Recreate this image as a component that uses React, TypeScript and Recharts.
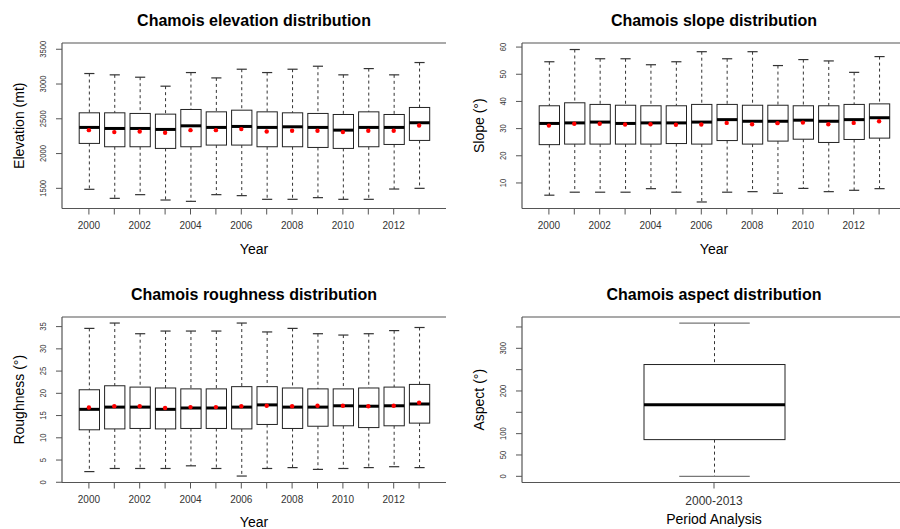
import React from 'react';
import { ComposedChart, Bar, Scatter, XAxis, YAxis } from 'recharts';

const years = [2000, 2001, 2002, 2003, 2004, 2005, 2006, 2007, 2008, 2009, 2010, 2011, 2012, 2013];

const elevMin = [1486, 1356, 1409, 1332, 1313, 1409, 1395, 1342, 1342, 1366, 1342, 1342, 1490, 1500];
const elevQ1 = [2146, 2098, 2098, 2074, 2098, 2122, 2122, 2098, 2098, 2088, 2074, 2098, 2131, 2189];
const elevMedian = [2376, 2361, 2361, 2347, 2399, 2376, 2390, 2376, 2385, 2376, 2337, 2376, 2376, 2443];
const elevQ3 = [2586, 2586, 2577, 2567, 2634, 2600, 2624, 2600, 2586, 2577, 2562, 2600, 2562, 2663];
const elevMax = [3151, 3132, 3098, 2969, 3165, 3088, 3213, 3165, 3213, 3256, 3132, 3222, 3132, 3309];
const elevMean = [2337, 2309, 2318, 2299, 2337, 2337, 2352, 2318, 2328, 2328, 2309, 2328, 2328, 2404];

const slopeMin = [5.5, 6.6, 6.6, 6.6, 7.9, 6.6, 3.0, 6.6, 6.8, 6.2, 8.0, 6.8, 7.3, 7.9];
const slopeQ1 = [24.1, 24.3, 24.3, 24.3, 24.3, 24.5, 24.3, 25.6, 24.3, 25.4, 26.1, 24.9, 26.0, 26.5];
const slopeMedian = [31.9, 32.1, 32.4, 31.9, 32.1, 32.1, 32.4, 33.3, 32.7, 32.7, 33.1, 32.7, 33.3, 34.0];
const slopeQ3 = [38.4, 39.5, 38.9, 38.6, 38.4, 38.4, 38.9, 38.9, 38.6, 38.6, 38.4, 38.4, 38.9, 39.1];
const slopeMax = [54.6, 59.1, 55.7, 55.7, 53.5, 54.6, 58.3, 55.7, 58.3, 53.2, 55.4, 54.9, 50.7, 56.5];
const slopeMean = [31.1, 31.8, 31.8, 31.5, 31.6, 31.4, 31.5, 32.1, 31.6, 32.0, 32.2, 31.6, 32.1, 32.7];

const roughMin = [2.4, 3.1, 3.1, 3.1, 3.7, 3.1, 1.4, 3.1, 3.3, 2.9, 3.1, 3.3, 3.5, 3.3];
const roughQ1 = [11.8, 12.0, 12.1, 12.0, 12.1, 12.1, 12.0, 13.0, 12.1, 12.6, 12.7, 12.3, 12.7, 13.3];
const roughMedian = [16.4, 16.9, 16.9, 16.4, 16.7, 16.7, 16.9, 17.4, 16.9, 16.9, 17.2, 17.1, 17.2, 17.6];
const roughQ3 = [20.8, 21.7, 21.4, 21.2, 21.0, 21.0, 21.5, 21.5, 21.2, 21.0, 21.0, 21.2, 21.4, 22.0];
const roughMax = [34.6, 35.8, 33.4, 34.0, 34.0, 34.0, 35.8, 33.8, 34.6, 33.4, 33.1, 33.4, 34.1, 34.8];
const roughMean = [16.8, 17.1, 17.1, 16.7, 16.9, 16.9, 17.1, 17.2, 17.1, 17.2, 17.2, 17.1, 17.2, 17.9];

const periods = ['2000-2013'];
const aspectMin = [0];
const aspectQ1 = [86];
const aspectMedian = [168];
const aspectQ3 = [262];
const aspectMax = [359];

const elevTicks = [1500, 2000, 2500, 3000, 3500];
const slopeTicks = [10, 20, 30, 40, 50, 60];
const roughTicks = [0, 5, 10, 15, 20, 25, 30, 35];
const aspectTicks = [0, 50, 100, 150, 200, 250, 300, 350];
const aspectTickLabels = [0, 50, 100, 200, 300];

const FRAME = '#555';

type Row = { cat: string; min: number; q1: number; median: number; q3: number; max: number; mean?: number };

const buildRows = (
  cats: (string | number)[],
  min: number[],
  q1: number[],
  median: number[],
  q3: number[],
  max: number[],
  mean?: number[]
): Row[] =>
  cats.map((c, i) => ({
    cat: String(c),
    min: min[i],
    q1: q1[i],
    median: median[i],
    q3: q3[i],
    max: max[i],
    mean: mean ? mean[i] : undefined,
  }));

// one bar spans the whiskers; box and median are placed inside it
const BoxShape = (props: any) => {
  const { x, y, width, height, payload, capColor } = props;
  if (!payload) return null;
  const top = Math.min(y, y + height);
  const h = Math.abs(height);
  const span = payload.max - payload.min;
  const py = (v: number) => top + ((payload.max - v) / span) * h;
  const cx = x + width / 2;
  const cap = width / 4;
  const yQ3 = py(payload.q3);
  const yQ1 = py(payload.q1);
  const yMed = py(payload.median);
  return (
    <g>
      <line x1={cx} x2={cx} y1={top} y2={yQ3} stroke="#333" strokeDasharray="3 3" />
      <line x1={cx} x2={cx} y1={yQ1} y2={top + h} stroke="#333" strokeDasharray="3 3" />
      <line x1={cx - cap} x2={cx + cap} y1={top} y2={top} stroke={capColor} strokeWidth={1.2} />
      <line x1={cx - cap} x2={cx + cap} y1={top + h} y2={top + h} stroke={capColor} strokeWidth={1.2} />
      <rect x={x} y={yQ3} width={width} height={yQ1 - yQ3} fill="#fff" stroke="#222" />
      <line x1={x} x2={x + width} y1={yMed} y2={yMed} stroke="#000" strokeWidth={3} />
    </g>
  );
};

const XTick = (props: any) => {
  const { x, y, payload, even, size } = props;
  const v = payload.value;
  if (even && Number(v) % 2 !== 0) return null;
  return (
    <text x={x} y={y} dy="0.71em" textAnchor="middle" fontSize={size} fill="#333">
      {v}
    </text>
  );
};

const YTick = (props: any) => {
  const { x, y, payload, labels } = props;
  if (labels && !labels.includes(payload.value)) return null;
  return (
    <g transform={`translate(${x},${y}) rotate(-90) scale(0.84,1)`}>
      <text x={0} y={0} textAnchor="middle" fontSize={9} fill="#333">
        {payload.value}
      </text>
    </g>
  );
};

type PanelProps = {
  left: number;
  top: number;
  title: string;
  xLabel: string;
  yLabel: string;
  rows: Row[];
  domain: [number, number];
  ticks: number[];
  tickLabels?: number[];
  barSize: number;
  pad: number;
  evenOnly: boolean;
  xLabelOffset: number;
  xTickSize: number;
  capColor: string;
};

const Panel = ({
  left, top, title, xLabel, yLabel, rows, domain, ticks, tickLabels, barSize, pad, evenOnly, xLabelOffset, xTickSize, capColor,
}: PanelProps) => (
  <div style={{ position: 'absolute', left, top }}>
    <ComposedChart width={460} height={274} data={rows} margin={{ top: 0, right: 14, bottom: 0, left: 0 }}>
      <XAxis
        xAxisId="t"
        orientation="top"
        dataKey="cat"
        height={43}
        tick={false}
        tickLine={false}
        axisLine={{ stroke: FRAME, strokeWidth: 1.2 }}
        padding={{ left: pad, right: pad }}
        label={{ value: title, position: 'insideTop', offset: 14.6, fontSize: 16, fontWeight: 'bold', fill: '#000' }}
      />
      <XAxis
        dataKey="cat"
        height={65.5}
        interval={0}
        tickSize={6}
        tickMargin={7.5}
        tickLine={{ stroke: FRAME }}
        axisLine={{ stroke: FRAME, strokeWidth: 1.2 }}
        padding={{ left: pad, right: pad }}
        tick={<XTick even={evenOnly} size={xTickSize} />}
        label={{ value: xLabel, position: 'insideBottom', offset: xLabelOffset, fontSize: 14, fill: '#000' }}
      />
      <YAxis
        type="number"
        domain={domain}
        ticks={ticks}
        width={62}
        interval={0}
        tickSize={6}
        tickMargin={10}
        tickLine={{ stroke: FRAME }}
        axisLine={{ stroke: FRAME, strokeWidth: 1.2 }}
        tick={<YTick labels={tickLabels} />}
        label={{ value: yLabel, angle: -90, position: 'insideLeft', offset: 19, fontSize: 14, fill: '#000', style: { textAnchor: 'middle' } }}
      />
      <YAxis
        yAxisId="r"
        orientation="right"
        type="number"
        domain={domain}
        width={0}
        tick={false}
        tickLine={false}
        axisLine={{ stroke: FRAME, strokeWidth: 1.2 }}
      />
      <Bar
        dataKey={(d: Row) => [d.min, d.max]}
        barSize={barSize}
        isAnimationActive={false}
        shape={(p: any) => <BoxShape {...p} capColor={capColor} />}
      />
      {rows[0].mean !== undefined && (
        <Scatter
          dataKey="mean"
          isAnimationActive={false}
          shape={(p: any) => <circle cx={p.cx} cy={p.cy} r={2.2} fill="#ff0000" />}
        />
      )}
    </ComposedChart>
  </div>
);

export default function App() {
  const elevRows = buildRows(years, elevMin, elevQ1, elevMedian, elevQ3, elevMax, elevMean);
  const slopeRows = buildRows(years, slopeMin, slopeQ1, slopeMedian, slopeQ3, slopeMax, slopeMean);
  const roughRows = buildRows(years, roughMin, roughQ1, roughMedian, roughQ3, roughMax, roughMean);
  const aspectRows = buildRows(periods, aspectMin, aspectQ1, aspectMedian, aspectQ3, aspectMax);

  return (
    <div
      style={{
        position: 'absolute',
        left: 0,
        top: 0,
        width: 900,
        height: 529,
        overflow: 'hidden',
        background: '#fff',
        fontFamily: '"Liberation Sans", Arial, sans-serif',
      }}
    >
      <Panel left={0} top={0} title="Chamois elevation distribution" xLabel="Year" yLabel="Elevation (mt)"
        rows={elevRows} domain={[1210, 3590]} ticks={elevTicks} barSize={20.3} pad={14.2} evenOnly
        xLabelOffset={20} xTickSize={10} capColor="#333" />
      <Panel left={460.3} top={0} title="Chamois slope distribution" xLabel="Year" yLabel="Slope (°)"
        rows={slopeRows} domain={[0.6, 61.5]} ticks={slopeTicks} barSize={20.3} pad={14.2} evenOnly
        xLabelOffset={20} xTickSize={10} capColor="#333" />
      <Panel left={0} top={273.7} title="Chamois roughness distribution" xLabel="Year" yLabel="Roughness (°)"
        rows={roughRows} domain={[-0.05, 37.16]} ticks={roughTicks} barSize={20.3} pad={14.2} evenOnly
        xLabelOffset={21.5} xTickSize={10} capColor="#333" />
      <Panel left={460.3} top={273.7} title="Chamois aspect distribution" xLabel="Period Analysis" yLabel="Aspect (°)"
        rows={aspectRows} domain={[-14.5, 373.4]} ticks={aspectTicks} tickLabels={aspectTickLabels}
        barSize={141} pad={0} evenOnly={false} xLabelOffset={24} xTickSize={12} capColor="#777" />
    </div>
  );
}
